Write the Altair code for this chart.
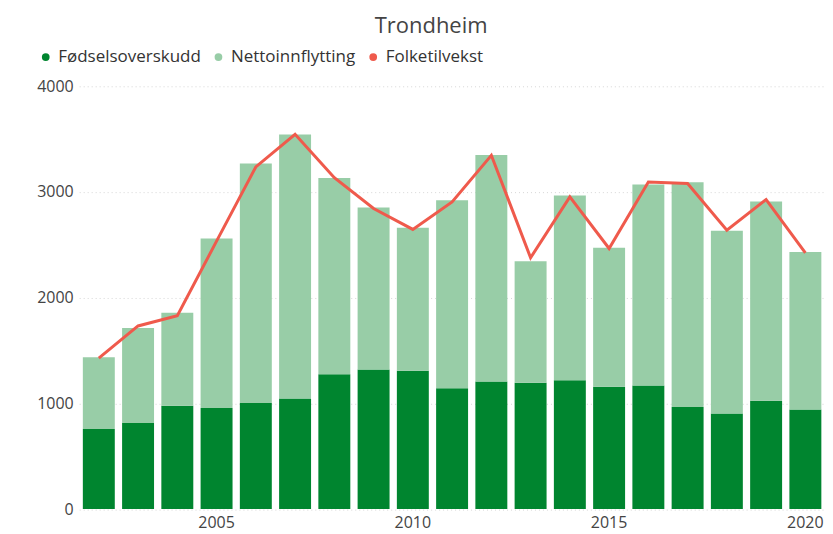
import altair as alt
import pandas as pd

years = list(range(2002, 2021))
fodsel = [757, 814, 977, 956, 1003, 1046, 1277, 1320, 1308, 1144, 1207, 1195, 1220, 1157, 1169, 965, 905, 1025, 942]
totals = [1437, 1714, 1858, 2561, 3269, 3543, 3133, 2854, 2661, 2923, 3350, 2344, 2967, 2472, 3071, 3093, 2633, 2910, 2432]
netto = [t - f for t, f in zip(totals, fodsel)]
folketilvekst = [1428, 1733, 1830, 2535, 3237, 3546, 3135, 2844, 2646, 2906, 3347, 2378, 2954, 2466, 3095, 3080, 2639, 2929, 2425]

series = ["Fødselsoverskudd", "Nettoinnflytting", "Folketilvekst"]
colors = ["#00852f", "#98cda7", "#ef5a4c"]

rows = []
for y, f, n in zip(years, fodsel, netto):
    rows.append({"År": y, "serie": series[0], "verdi": f, "ord": 0})
    rows.append({"År": y, "serie": series[1], "verdi": n, "ord": 1})
bars_df = pd.DataFrame(rows)
line_df = pd.DataFrame({"År": years, "verdi": folketilvekst})

FONT = "Open Sans"

x_enc = alt.X(
    "År:O",
    title=None,
    scale=alt.Scale(paddingInner=0.186, paddingOuter=0.093),
    axis=alt.Axis(values=[2005, 2010, 2015, 2020], labelAngle=0, ticks=False, domain=False,
                  labelFontSize=16, labelColor="#444444", labelPadding=5, labelFont=FONT, grid=False),
)
y_scale = alt.Scale(domain=[0, 4000], nice=False)

bars = alt.Chart(bars_df).mark_bar().encode(
    x=x_enc,
    y=alt.Y("verdi:Q", title=None, stack="zero", scale=y_scale,
            axis=alt.Axis(values=[0, 1000, 2000, 3000, 4000], format="d", ticks=False, domain=False,
                          labelFontSize=16, labelColor="#444444", labelPadding=6, labelFont=FONT,
                          grid=True, gridColor="#d6d6d6", gridDash=[1, 3], gridWidth=1)),
    color=alt.Color("serie:N", scale=alt.Scale(domain=series, range=colors),
                    legend=alt.Legend(title=None, orient="none", direction="horizontal",
                                      legendX=-42, legendY=-38, symbolType="circle", symbolSize=60,
                                      labelFontSize=17, labelFont=FONT, labelColor="#333333",
                                      labelOffset=4, columnPadding=9, symbolStrokeWidth=0)),
    order=alt.Order("ord:Q"),
)

line = alt.Chart(line_df).mark_line(color="#ef5a4c", strokeWidth=3).encode(
    x=x_enc,
    y=alt.Y("verdi:Q", scale=y_scale),
)

chart = alt.layer(bars, line).properties(
    width=747,
    height=423.5,
    title=alt.TitleParams("Trondheim", fontSize=22, font=FONT, fontWeight="normal", color="#444444",
                          anchor="middle", dx=-21, dy=25, offset=18, baseline="alphabetic"),
    autosize=alt.AutoSizeParams(type="none"),
    padding={"left": 71.3, "top": 78, "right": 0, "bottom": 26},
).configure_view(stroke=None)

chart.save("out.html", embed_options={"renderer": "svg", "actions": False})
